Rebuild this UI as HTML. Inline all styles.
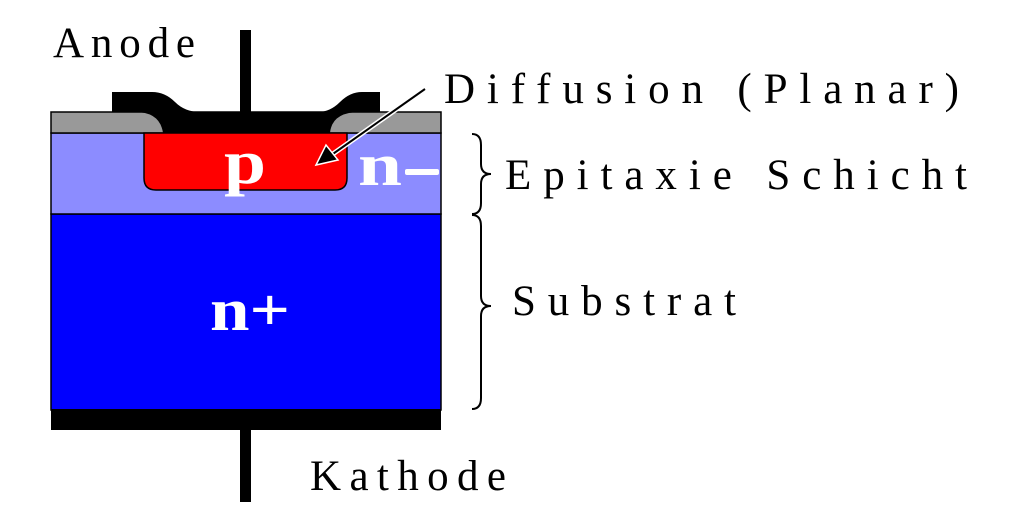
<!DOCTYPE html>
<html><head><meta charset="utf-8"><style>
html,body{margin:0;padding:0;background:#fff;}
svg{display:block;}
text{font-family:"Liberation Serif",serif;}
</style></head><body>
<svg width="1024" height="512" viewBox="0 0 1024 512" xmlns="http://www.w3.org/2000/svg">
<rect x="51" y="214" width="390" height="196" fill="#0000ff" stroke="#000" stroke-width="1.5"/>
<rect x="51" y="133" width="390" height="81" fill="#8c8cff" stroke="#000" stroke-width="1.5"/>
<rect x="51" y="112" width="390" height="21" fill="#999" stroke="#000" stroke-width="1.5"/>
<rect x="51" y="409" width="390" height="21" fill="#000"/>
<path d="M144 133 L347 133 L347 178 Q347 190 335 190 L156 190 Q144 190 144 178 Z" fill="#f00" stroke="#000" stroke-width="1.5"/>
<path d="M112 92 L152 92 Q165 92 175 102 Q185 112 200 112 L318 112 Q330 112 340 102 Q350 92 362 92 L380 92 L380 112 L360 112 Q332 112 330 133 L163 133 Q160 112 135 112 L112 112 Z" fill="#000"/>
<rect x="240" y="30" width="11" height="84" fill="#000"/>
<rect x="240" y="428" width="11" height="74" fill="#000"/>
<line x1="425" y1="89" x2="330" y2="156" stroke="#fff" stroke-width="5"/>
<line x1="425" y1="89" x2="330" y2="156" stroke="#000" stroke-width="2"/>
<polygon points="316,165 326,145 338,160" fill="#000" stroke="#fff" stroke-width="1.5"/>
<path d="M472 134 Q481 134 481 145 L481 164 Q481 174 491 174 Q481 174 481 184 L481 203 Q481 214 472 214" fill="none" stroke="#000" stroke-width="2"/>
<path d="M472 215 Q481 215 481 226 L481 296 Q481 306 491 306 Q481 306 481 316 L481 398 Q481 409 472 409" fill="none" stroke="#000" stroke-width="2"/>
<text x="53" y="57" font-size="43" textLength="142" lengthAdjust="spacing">Anode</text>
<text x="444" y="103" font-size="43" textLength="515" lengthAdjust="spacing">Diffusion (Planar)</text>
<text x="505" y="189" font-size="43" textLength="462" lengthAdjust="spacing">Epitaxie Schicht</text>
<text x="512" y="315" font-size="43" textLength="224" lengthAdjust="spacing">Substrat</text>
<text x="310" y="490" font-size="43" textLength="196" lengthAdjust="spacing">Kathode</text>
<text x="224" y="183" font-size="62" font-weight="bold" fill="#fff" textLength="42" lengthAdjust="spacingAndGlyphs">p</text>
<text x="358" y="185" font-size="60" font-weight="bold" fill="#fff" textLength="44" lengthAdjust="spacingAndGlyphs">n</text>
<rect x="405" y="169" width="34" height="6" rx="2" fill="#fff"/>
<text x="210" y="330" font-size="60" font-weight="bold" fill="#fff" textLength="80" lengthAdjust="spacingAndGlyphs">n+</text>
</svg>
</body></html>
